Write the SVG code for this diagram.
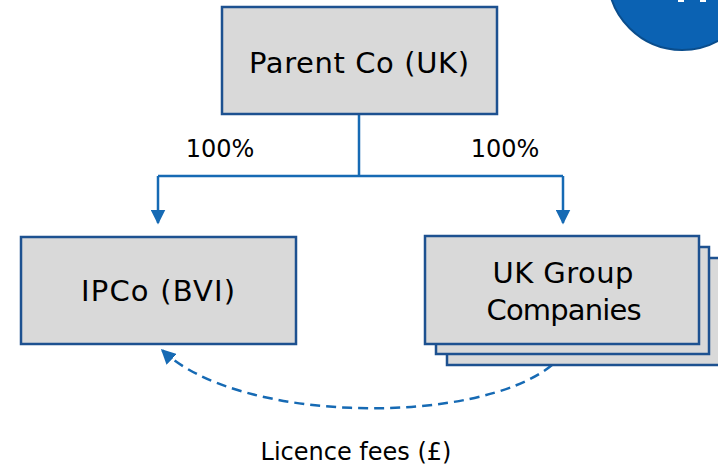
<svg xmlns="http://www.w3.org/2000/svg" width="718" height="466" viewBox="0 0 718 466">
<defs>
<style>
.box{fill:#d9d9d9;stroke:#1d5190;stroke-width:2.5}
.lbl{font-family:"DejaVu Sans",Verdana,sans-serif;fill:#000}
.big{font-size:29px;text-anchor:middle}
.sm{font-size:24px;text-anchor:middle}
.conn{fill:none;stroke:#166ab4;stroke-width:2.5}
.dash{stroke-dasharray:10 6}
</style>
<marker id="ah" viewBox="0 0 10 10" refX="9" refY="5" markerWidth="15" markerHeight="15" markerUnits="userSpaceOnUse" orient="auto">
<path d="M0,0 L10,5 L0,10 Z" fill="#166ab4"/>
</marker>
</defs>
<rect width="718" height="466" fill="#fff"/>
<g id="badge">
<circle cx="682" cy="-24" r="74" fill="#0b62b3" stroke="#0a4d8c" stroke-width="2"/>
<rect x="678" y="0" width="6" height="2" fill="#fff"/>
<rect x="700" y="0" width="6" height="2" fill="#fff"/>
</g>
<g id="connectors">
<path class="conn" d="M359,115 V176 M158,176 H563"/>
<path class="conn" d="M158,176 V223" marker-end="url(#ah)"/>
<path class="conn" d="M563,176 V223" marker-end="url(#ah)"/>
<path class="conn dash" d="M552,365 C480,425 240,425 162,350" marker-end="url(#ah)"/>
</g>
<g id="parent">
<rect class="box" x="222" y="7" width="275" height="107"/>
<text class="lbl big" x="359" y="73" textLength="220" lengthAdjust="spacing">Parent Co (UK)</text>
</g>
<g id="ipco">
<rect class="box" x="21" y="237" width="275" height="107"/>
<text class="lbl big" x="158" y="301" textLength="154" lengthAdjust="spacing">IPCo (BVI)</text>
</g>
<g id="ukgroup">
<rect class="box" x="447" y="258" width="275" height="107"/>
<rect class="box" x="436" y="247" width="273" height="107"/>
<rect class="box" x="425" y="236" width="274" height="108"/>
<text class="lbl big" x="563" y="283" textLength="141" lengthAdjust="spacing">UK Group</text>
<text class="lbl big" x="564" y="320" textLength="155" lengthAdjust="spacing">Companies</text>
</g>
<g id="labels">
<text class="lbl sm" x="220" y="157">100%</text>
<text class="lbl sm" x="505" y="157">100%</text>
<text class="lbl sm" x="356" y="460">Licence fees (£)</text>
</g>
</svg>
